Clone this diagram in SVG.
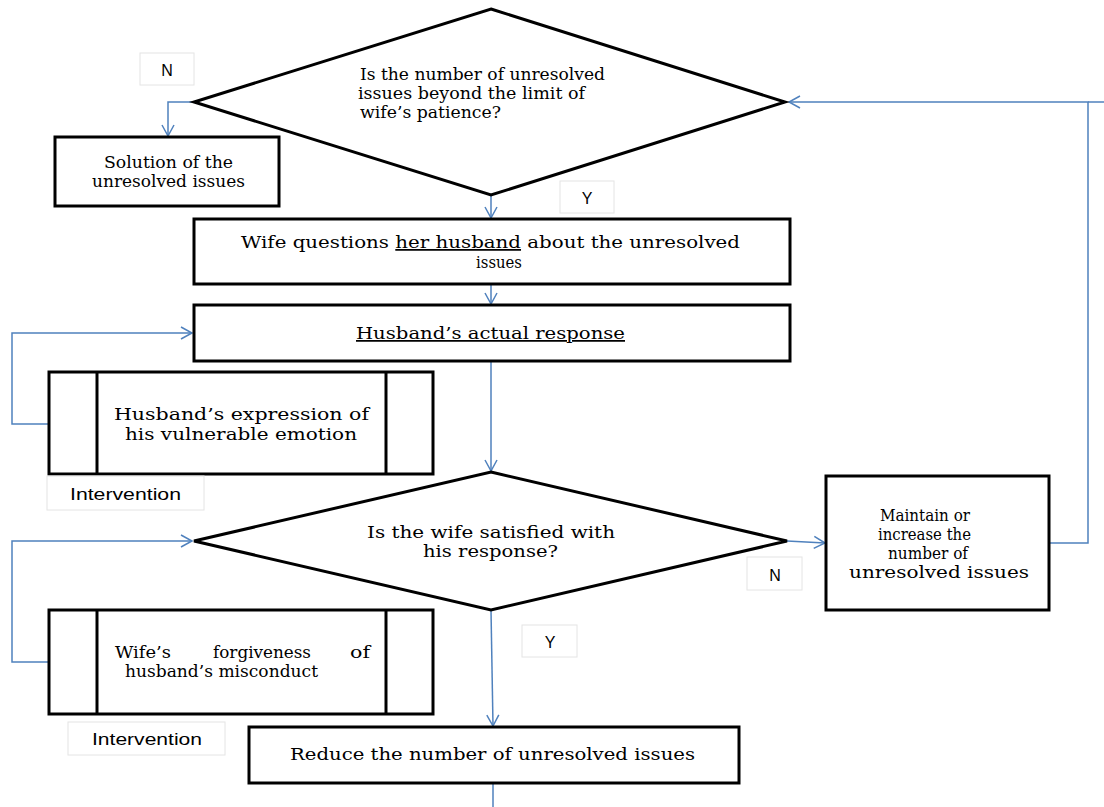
<svg xmlns="http://www.w3.org/2000/svg" width="1104" height="807" viewBox="0 0 1104 807">
<style>
.n{fill:#fff;stroke:#000;stroke-width:3}
.lb{fill:#fff;stroke:#e4e4e4;stroke-width:1}
.c{fill:none;stroke:#4f81bd;stroke-width:1.5}
.t{font-family:"DejaVu Serif","Liberation Serif",serif;font-size:17.5px;fill:#000}
.s{font-family:"Liberation Sans","DejaVu Sans",sans-serif;font-size:16px;fill:#000}
.m{text-anchor:middle}
</style>
<defs>
<marker id="a" markerUnits="userSpaceOnUse" markerWidth="14" markerHeight="14" refX="12" refY="7" orient="auto">
<path d="M1,1 L12,7 L1,13" fill="none" stroke="#4f81bd" stroke-width="1.5"/>
</marker>
</defs>
<rect width="1104" height="807" fill="#fff"/>
<g id="connectors">
<path class="c" d="M194,102 H168 V136" marker-end="url(#a)"/>
<path class="c" d="M491,195 V218" marker-end="url(#a)"/>
<path class="c" d="M491,284 V304" marker-end="url(#a)"/>
<path class="c" d="M491,361 V471" marker-end="url(#a)"/>
<path class="c" d="M49,424 H12 V333 H192" marker-end="url(#a)"/>
<path class="c" d="M49,662 H12 V541 H192" marker-end="url(#a)"/>
<path class="c" d="M787,541 L825,543" marker-end="url(#a)"/>
<path class="c" d="M1049,543 H1088 V102 H789" marker-end="url(#a)"/>
<path class="c" d="M1088,102 H1104"/>
<path class="c" d="M491,610 L493,726" marker-end="url(#a)"/>
<path class="c" d="M493,783 V807"/>
</g>
<g id="label-n1"><rect class="lb" x="140" y="53" width="54" height="32"/><text class="s m" x="167" y="76">N</text></g>
<g id="label-y1"><rect class="lb" x="560" y="181" width="54" height="32"/><text class="s m" x="587" y="204">Y</text></g>
<g id="label-n2"><rect class="lb" x="747" y="557" width="55" height="33"/><text class="s m" x="775" y="581">N</text></g>
<g id="label-y2"><rect class="lb" x="522" y="625" width="55" height="32"/><text class="s m" x="550" y="648">Y</text></g>
<g id="decision1">
<polygon class="n" points="491,9 785,102 491,195 194,102"/>
<text class="t" x="360" y="80" textLength="245" lengthAdjust="spacingAndGlyphs">Is the number of unresolved</text>
<text class="t" x="358" y="99" textLength="227" lengthAdjust="spacingAndGlyphs">issues beyond the limit of</text>
<text class="t" x="360" y="118" textLength="141" lengthAdjust="spacingAndGlyphs">wife’s patience?</text>
</g>
<g id="solution">
<rect class="n" x="55" y="137" width="224" height="69"/>
<text class="t" x="104" y="168" textLength="129" lengthAdjust="spacingAndGlyphs">Solution of the</text>
<text class="t" x="92" y="187" textLength="153" lengthAdjust="spacingAndGlyphs">unresolved issues</text>
</g>
<g id="wife-questions">
<rect class="n" x="194" y="219" width="596" height="65"/>
<text class="t" x="241" y="248" textLength="499" lengthAdjust="spacingAndGlyphs">Wife questions <tspan text-decoration="underline">her husband</tspan> about the unresolved</text>
<text class="t" x="476" y="268" textLength="46" lengthAdjust="spacingAndGlyphs">issues</text>
</g>
<g id="husband-response">
<rect class="n" x="194" y="305" width="596" height="56"/>
<text class="t" x="356" y="339" textLength="269" lengthAdjust="spacingAndGlyphs" text-decoration="underline">Husband’s actual response</text>
</g>
<g id="husband-expression">
<rect class="n" x="49" y="372" width="384" height="102"/>
<line x1="97" y1="372" x2="97" y2="474" stroke="#000" stroke-width="3"/>
<line x1="386" y1="372" x2="386" y2="474" stroke="#000" stroke-width="3"/>
<text class="t" x="114" y="420" textLength="255" lengthAdjust="spacingAndGlyphs">Husband’s expression of</text>
<text class="t" x="125" y="440" textLength="232" lengthAdjust="spacingAndGlyphs">his vulnerable emotion</text>
</g>
<g id="intervention1"><rect class="lb" x="47" y="476" width="157" height="34"/><text class="s" x="70" y="500" textLength="111" lengthAdjust="spacingAndGlyphs">Intervention</text></g>
<g id="decision2">
<polygon class="n" points="491,472 787,541 491,610 194,541"/>
<text class="t" x="367" y="538" textLength="248" lengthAdjust="spacingAndGlyphs">Is the wife satisfied with</text>
<text class="t" x="423" y="557" textLength="135" lengthAdjust="spacingAndGlyphs">his response?</text>
</g>
<g id="maintain">
<rect class="n" x="826" y="476" width="223" height="134"/>
<text class="t" x="880" y="521" textLength="90" lengthAdjust="spacingAndGlyphs">Maintain or</text>
<text class="t" x="878" y="540" textLength="93" lengthAdjust="spacingAndGlyphs">increase the</text>
<text class="t" x="888" y="559" textLength="80" lengthAdjust="spacingAndGlyphs">number of</text>
<text class="t" x="849" y="578" textLength="180" lengthAdjust="spacingAndGlyphs">unresolved issues</text>
</g>
<g id="wife-forgiveness">
<rect class="n" x="49" y="610" width="384" height="104"/>
<line x1="97" y1="610" x2="97" y2="714" stroke="#000" stroke-width="3"/>
<line x1="386" y1="610" x2="386" y2="714" stroke="#000" stroke-width="3"/>
<text class="t" x="115" y="658" textLength="56" lengthAdjust="spacingAndGlyphs">Wife’s</text>
<text class="t" x="213" y="658" textLength="98" lengthAdjust="spacingAndGlyphs">forgiveness</text>
<text class="t" x="350" y="658" textLength="20" lengthAdjust="spacingAndGlyphs">of</text>
<text class="t" x="125" y="677" textLength="193" lengthAdjust="spacingAndGlyphs">husband’s misconduct</text>
</g>
<g id="intervention2"><rect class="lb" x="68" y="722" width="157" height="33"/><text class="s" x="92" y="745" textLength="110" lengthAdjust="spacingAndGlyphs">Intervention</text></g>
<g id="reduce">
<rect class="n" x="249" y="727" width="490" height="56"/>
<text class="t" x="290" y="760" textLength="405" lengthAdjust="spacingAndGlyphs">Reduce the number of unresolved issues</text>
</g>
</svg>
